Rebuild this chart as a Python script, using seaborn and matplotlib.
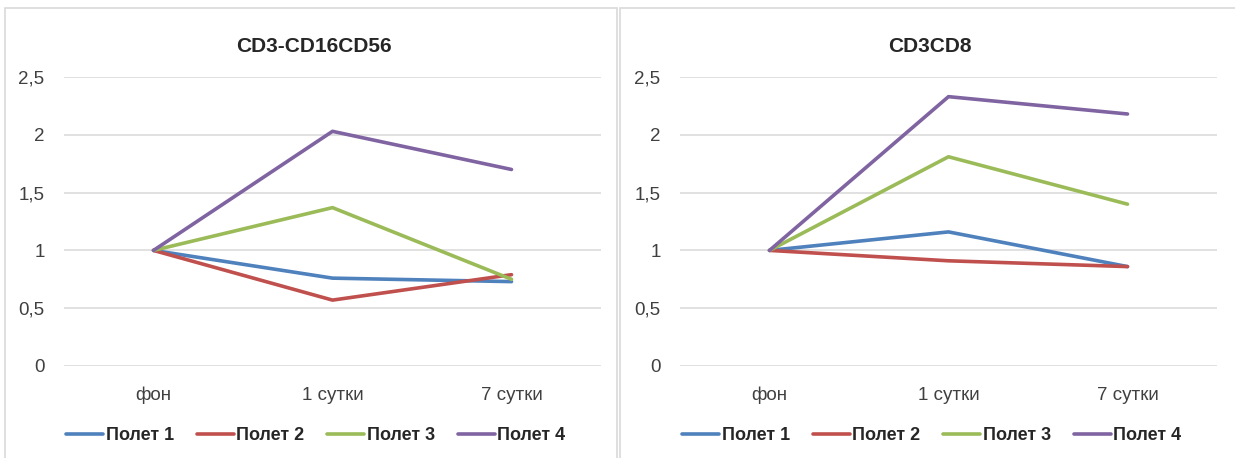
import matplotlib.pyplot as plt
import matplotlib.patches as mpatches
import pandas as pd
import seaborn as sns

# %%
days = ["фон", "1 сутки", "7 сутки"]
flights = ["Полет 1", "Полет 2", "Полет 3", "Полет 4"]
colors = ["#4F81BD", "#C0504D", "#9BBB59", "#8064A2"]

# CD3-CD16CD56
nk_p1 = [1.0, 0.76, 0.73]
nk_p2 = [1.0, 0.57, 0.79]
nk_p3 = [1.0, 1.37, 0.75]
nk_p4 = [1.0, 2.03, 1.70]

# CD3CD8
cd8_p1 = [1.0, 1.16, 0.86]
cd8_p2 = [1.0, 0.91, 0.86]
cd8_p3 = [1.0, 1.81, 1.40]
cd8_p4 = [1.0, 2.33, 2.18]

yticks = [0, 0.5, 1, 1.5, 2, 2.5]
ytick_labels = ["0", "0,5", "1", "1,5", "2", "2,5"]


# %%
def to_long(series_list):
    rows = []
    for name, vals in zip(flights, series_list):
        for i, v in enumerate(vals):
            rows.append({"day": i, "value": v, "flight": name})
    return pd.DataFrame(rows)


panels = [
    ("CD3-CD16CD56", to_long([nk_p1, nk_p2, nk_p3, nk_p4])),
    ("CD3CD8", to_long([cd8_p1, cd8_p2, cd8_p3, cd8_p4])),
]

sns.set_style("white")
plt.rcParams["font.family"] = ["Liberation Sans", "DejaVu Sans"]

fig = plt.figure(figsize=(12.35, 4.58), dpi=100)

# chart frames like excel
for x0, w in [(5 / 1235, 612 / 1235), (620 / 1235, 620 / 1235)]:
    fig.patches.append(
        mpatches.Rectangle((x0, -0.05), w, 1.05 - 8 / 458, transform=fig.transFigure,
                           fill=False, edgecolor="#D9D9D9", linewidth=1.2)
    )

lefts = [64 / 1235, 680 / 1235]
for (title, df), left in zip(panels, lefts):
    ax = fig.add_axes([left, 1 - 366 / 458, 537 / 1235, (366 - 77) / 458])
    sns.lineplot(data=df, x="day", y="value", hue="flight", palette=colors,
                 linewidth=2.6, sort=False, ax=ax)
    ax.set_xlim(-0.5, 2.5)
    ax.set_ylim(0, 2.5)
    ax.set_yticks(yticks)
    ax.set_yticklabels(ytick_labels)
    ax.set_xticks(range(len(days)))
    ax.set_xticklabels(days)
    ax.tick_params(axis="both", labelsize=13.5, colors="#404040", length=0)
    ax.tick_params(axis="x", pad=15)
    ax.tick_params(axis="y", pad=14)
    ax.yaxis.grid(True, color="#D9D9D9", linewidth=1.1)
    ax.set_axisbelow(True)
    for s in ax.spines.values():
        s.set_visible(False)
    ax.set_xlabel("")
    ax.set_ylabel("")
    ax.set_title(title, fontsize=15, fontweight="bold", x=0.465, pad=18)
    ax.legend(loc="center", bbox_to_anchor=(0.469, -0.24), ncol=4, frameon=False,
              handlelength=2.05, handletextpad=0.15, columnspacing=1.25,
              prop={"weight": "bold", "size": 13})

fig.savefig("out.png", dpi=100)
